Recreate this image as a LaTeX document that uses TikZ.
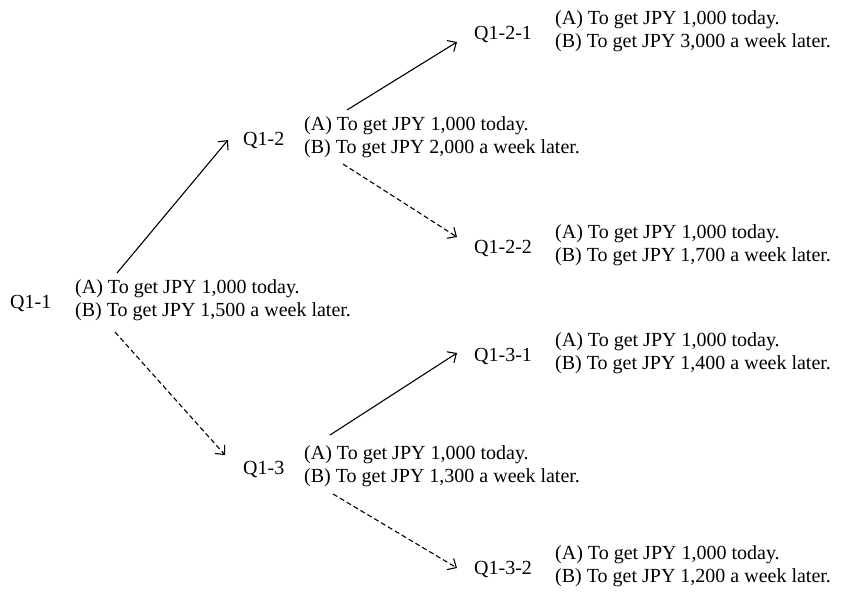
\documentclass[tikz,border=0pt]{standalone}
\usepackage{fontspec}
\setmainfont{Liberation Serif}
\usetikzlibrary{arrows.meta}
\tikzset{
  qlabel/.style={inner sep=0pt, anchor=west},
  choice/.style={inner sep=0pt, anchor=west, align=left},
  pick/.style={-{Straight Barb[length=7pt,width=13pt]}, line width=1.1pt},
  skip/.style={pick, dash pattern=on 5pt off 3pt},
}
\begin{document}
\begin{tikzpicture}[x=1pt,y=-1pt,font=\fontsize{20}{23}\selectfont]
  \useasboundingbox (0,0) rectangle (865,600);
  % first round
  \node[qlabel] (q11) at (10,303) {Q1-1};
  \node[choice] (o11) at (75,300) {(A) To get JPY 1,000 today.\\(B) To get JPY 1,500 a week later.};
  % second round
  \node[qlabel] (q12) at (243,140) {Q1-2};
  \node[choice] (o12) at (304,137) {(A) To get JPY 1,000 today.\\(B) To get JPY 2,000 a week later.};
  \node[qlabel] (q13) at (243,469) {Q1-3};
  \node[choice] (o13) at (304,466) {(A) To get JPY 1,000 today.\\(B) To get JPY 1,300 a week later.};
  % third round
  \node[qlabel] (q121) at (474,34) {Q1-2-1};
  \node[choice] (o121) at (555,31) {(A) To get JPY 1,000 today.\\(B) To get JPY 3,000 a week later.};
  \node[qlabel] (q122) at (474,248) {Q1-2-2};
  \node[choice] (o122) at (555,245) {(A) To get JPY 1,000 today.\\(B) To get JPY 1,700 a week later.};
  \node[qlabel] (q131) at (474,356) {Q1-3-1};
  \node[choice] (o131) at (555,353) {(A) To get JPY 1,000 today.\\(B) To get JPY 1,400 a week later.};
  \node[qlabel] (q132) at (474,569) {Q1-3-2};
  \node[choice] (o132) at (555,566) {(A) To get JPY 1,000 today.\\(B) To get JPY 1,200 a week later.};
  % (A) solid, (B) dashed
  \draw[pick] ([shift={(42,-27)}]o11.west) -- ([shift={(-15,0)}]q12.west);
  \draw[skip] ([shift={(40,32)}]o11.west) -- ([shift={(-18,-14)}]q13.west);
  \draw[pick] ([shift={(43,-27)}]o12.west) -- ([shift={(-17,8)}]q121.west);
  \draw[skip] ([shift={(39,27)}]o12.west) -- ([shift={(-17,-11)}]q122.west);
  \draw[pick] ([shift={(26,-31)}]o13.west) -- ([shift={(-17,-3)}]q131.west);
  \draw[skip] ([shift={(29,28)}]o13.west) -- ([shift={(-17,-1)}]q132.west);
\end{tikzpicture}
\end{document}
